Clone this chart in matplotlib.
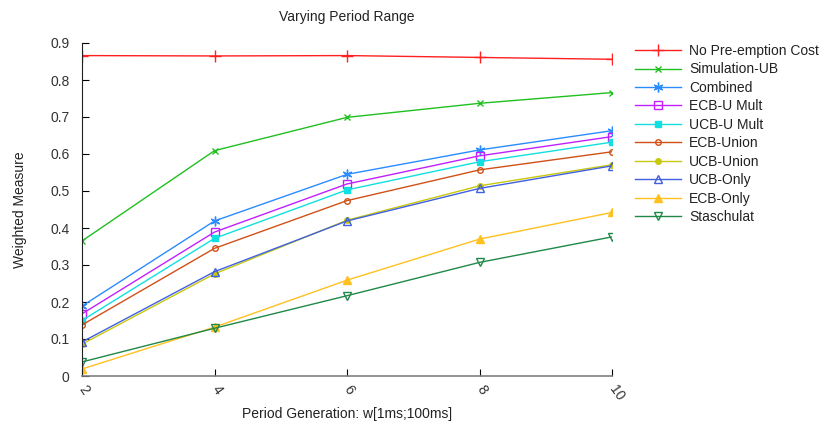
import numpy as np
import matplotlib
matplotlib.use("Agg")
import matplotlib.pyplot as plt

plt.rcParams['font.family'] = ['Liberation Sans', 'DejaVu Sans']

x = [2, 4, 6, 8, 10]

no_preemption = [0.866, 0.865, 0.866, 0.861, 0.856]
simulation_ub = [0.365, 0.609, 0.699, 0.737, 0.766]
combined = [0.189, 0.419, 0.545, 0.611, 0.663]
ecb_u_mult = [0.168, 0.389, 0.519, 0.595, 0.647]
ucb_u_mult = [0.150, 0.372, 0.503, 0.579, 0.632]
ecb_union = [0.138, 0.345, 0.474, 0.557, 0.606]
ucb_union = [0.086, 0.276, 0.421, 0.514, 0.571]
ucb_only = [0.092, 0.282, 0.419, 0.507, 0.568]
ecb_only = [0.019, 0.132, 0.259, 0.370, 0.442]
staschulat = [0.038, 0.129, 0.217, 0.307, 0.376]

labels = ["No Pre-emption Cost", "Simulation-UB", "Combined", "ECB-U Mult",
          "UCB-U Mult", "ECB-Union", "UCB-Union", "UCB-Only", "ECB-Only",
          "Staschulat"]

series = [no_preemption, simulation_ub, combined, ecb_u_mult, ucb_u_mult,
          ecb_union, ucb_union, ucb_only, ecb_only, staschulat]

# colour, marker, marker size, filled?
styles = [
    ("#ff2020", "+", 8, True),
    ("#20c020", "x", 5, True),
    ("#2a8cff", (6, 2, 0), 7, True),
    ("#c020ff", "s", 5.5, False),
    ("#10e0e0", "s", 5, True),
    ("#d05018", "o", 4, False),
    ("#c8c810", "o", 4, True),
    ("#4060e0", "^", 6, False),
    ("#ffc020", "^", 6, True),
    ("#208848", "v", 6, False),
]

fig = plt.figure(figsize=(8.22, 4.28), dpi=100)
ax = fig.add_axes([82/822, 1 - 376/428, (612-82)/822, (376-43)/428])

for vals, lab, (c, m, ms, filled) in zip(series, labels, styles):
    ax.plot(x, vals, color=c, lw=1.0, marker=m, ms=ms,
            mfc=c if filled else 'none', mec=c, mew=1.0, label=lab)

ax.set_xlim(2, 10)
ax.set_ylim(0, 0.9)
ax.set_xticks(x)
ax.set_yticks(np.arange(0, 0.91, 0.1))
ax.set_yticklabels(["0"] + ["%.1f" % v for v in np.arange(0.1, 0.91, 0.1)])

for s in ["top", "right"]:
    ax.spines[s].set_visible(False)
ax.spines["left"].set_color("#202020")
ax.spines["bottom"].set_color("#808080")
ax.spines["bottom"].set_linewidth(1.2)

ax.tick_params(axis='y', direction='in', length=5, labelsize=10,
               labelcolor="#333333", pad=9)
ax.tick_params(axis='x', direction='in', length=5, labelsize=10,
               labelcolor="#333333", pad=8)
for t in ax.get_xticklabels():
    t.set_rotation(-55)
    t.set_ha('left')
    t.set_va('center')
    t.set_rotation_mode('anchor')

ax.set_title("Varying Period Range", fontsize=10, color="#222222", pad=16)
ax.set_ylabel("Weighted Measure", fontsize=10, color="#222222")
ax.yaxis.set_label_coords(-0.103, 0.5)
ax.set_xlabel("Period Generation: w[1ms;100ms]", fontsize=10,
              color="#222222")
ax.xaxis.set_label_coords(0.5, -0.092)

fig.legend(loc='upper left', bbox_to_anchor=(635/822, 1 - 44/428),
           frameon=False, fontsize=10, handlelength=3.3, handletextpad=0.6,
           labelspacing=0.32, borderpad=0, borderaxespad=0,
           labelcolor="#222222")

fig.savefig("out.png", dpi=100)
